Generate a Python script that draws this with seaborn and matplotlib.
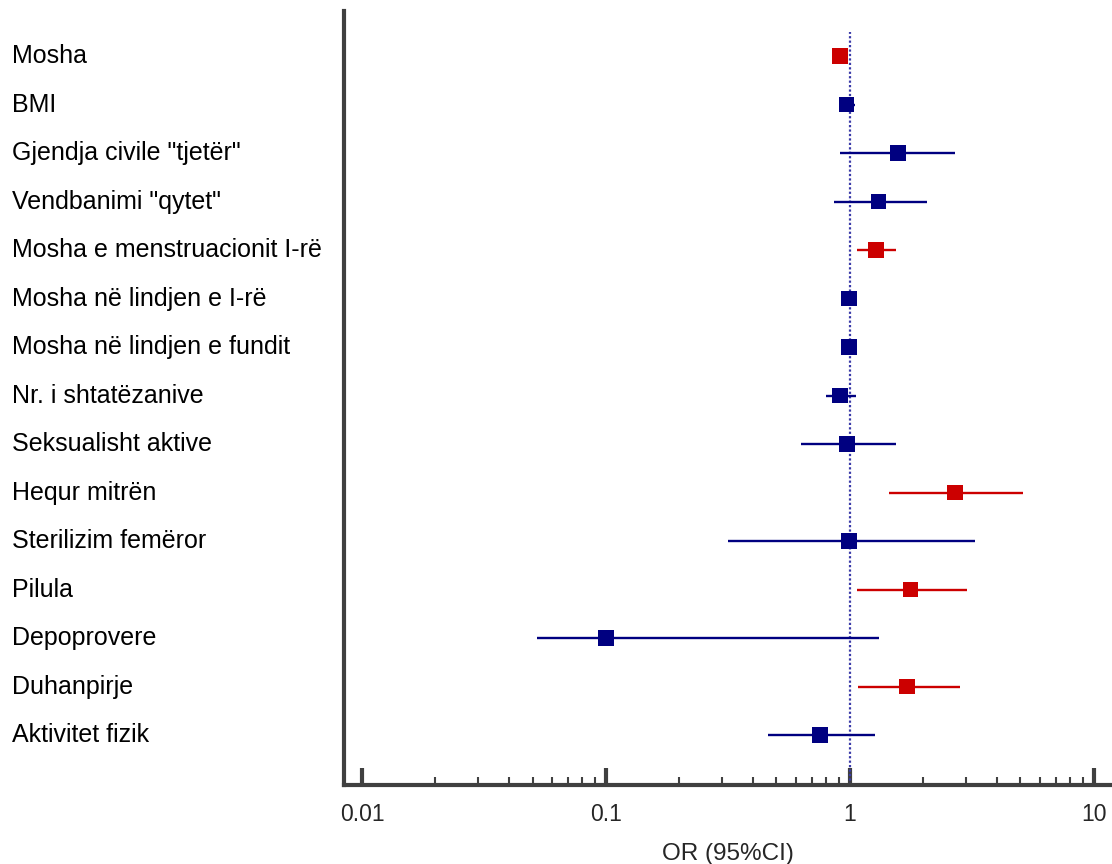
import numpy as np
import pandas as pd
import seaborn as sns
import matplotlib
matplotlib.use("Agg")
import matplotlib.pyplot as plt
from matplotlib import ticker
from matplotlib.transforms import blended_transform_factory

# values
labels = [
    "Mosha",
    "BMI",
    'Gjendja civile "tjetër"',
    'Vendbanimi "qytet"',
    "Mosha e menstruacionit I-rë",
    "Mosha në lindjen e I-rë",
    "Mosha në lindjen e fundit",
    "Nr. i shtatëzanive",
    "Seksualisht aktive",
    "Hequr mitrën",
    "Sterilizim femëror",
    "Pilula",
    "Depoprovere",
    "Duhanpirje",
    "Aktivitet fizik",
]
odds = [0.91, 0.97, 1.57, 1.31, 1.28, 0.99, 0.99, 0.91, 0.975, 2.70, 0.99, 1.77, 0.10, 1.71, 0.755]
ci_low = [0.89, 0.94, 0.91, 0.86, 1.07, 0.97, 0.97, 0.80, 0.63, 1.45, 0.315, 1.065, 0.052, 1.08, 0.46]
ci_high = [0.93, 1.05, 2.69, 2.07, 1.54, 1.01, 1.01, 1.057, 1.546, 5.13, 3.26, 3.03, 1.31, 2.82, 1.27]
significant = [True, False, False, False, True, False, False, False, False, True, False, True, False, True, False]

x_ticks = [0.01, 0.1, 1, 10]
x_tick_labels = ["0.01", "0.1", "1", "10"]

RED = "#cc0000"
NAVY = "#000080"

df = pd.DataFrame({
    "label": labels,
    "OR": odds,
    "lo": ci_low,
    "hi": ci_high,
    "sig": ["yes" if s else "no" for s in significant],
})
df["row"] = np.arange(len(df))

sns.set_style("white")
plt.rcParams["font.family"] = ["Liberation Sans", "DejaVu Sans"]

fig = plt.figure(figsize=(11.12, 8.64), dpi=100)
ax = fig.add_axes([344 / 1112, 1 - 785 / 864, 1 - 344 / 1112, (785 - 11) / 864])

# confidence intervals
for _, r in df.iterrows():
    col = RED if r["sig"] == "yes" else NAVY
    ax.hlines(r["row"], r["lo"], r["hi"], color=col, lw=1.7, zorder=2)

# reference line at OR = 1
ax.axvline(1, ymax=0.973, color="#3a3aa8", lw=1.6, ls=(0, (1, 1)), zorder=1)

sns.scatterplot(data=df, x="OR", y="row", hue="sig", palette={"yes": RED, "no": NAVY},
                marker="s", s=125, edgecolor="none", legend=False, ax=ax, zorder=3)

ax.set_xscale("log")
ax.set_xlim(0.00844, 11.86)
ax.set_ylim(len(df) - 1 + 1.03, -0.93)

minor = [m * d for d in (0.01, 0.1, 1) for m in range(2, 10)]
ax.xaxis.set_major_locator(ticker.FixedLocator(x_ticks))
ax.xaxis.set_major_formatter(ticker.FixedFormatter(x_tick_labels))
ax.xaxis.set_minor_locator(ticker.FixedLocator(minor))
ax.xaxis.set_minor_formatter(ticker.NullFormatter())
ax.tick_params(axis="x", which="major", direction="in", length=12, width=3,
               color="#404040", labelsize=16.5, pad=13, bottom=True)
ax.tick_params(axis="x", which="minor", direction="in", length=6, width=1.5,
               color="#404040", bottom=True)
ax.set_yticks([])
ax.set_ylabel("")
ax.set_xlabel("OR (95%CI)", fontsize=17.5, labelpad=12)

for side in ["top", "right"]:
    ax.spines[side].set_visible(False)
ax.spines["left"].set_linewidth(3)
ax.spines["left"].set_color("#404040")
ax.spines["bottom"].set_linewidth(3)
ax.spines["bottom"].set_color("#404040")

# row labels, left aligned near the figure edge
trans = blended_transform_factory(fig.transFigure, ax.transData)
for _, r in df.iterrows():
    ax.text(12 / 1112, r["row"], r["label"], transform=trans, ha="left", va="center",
            fontsize=18, color="black")

fig.savefig("out.png", dpi=100)
